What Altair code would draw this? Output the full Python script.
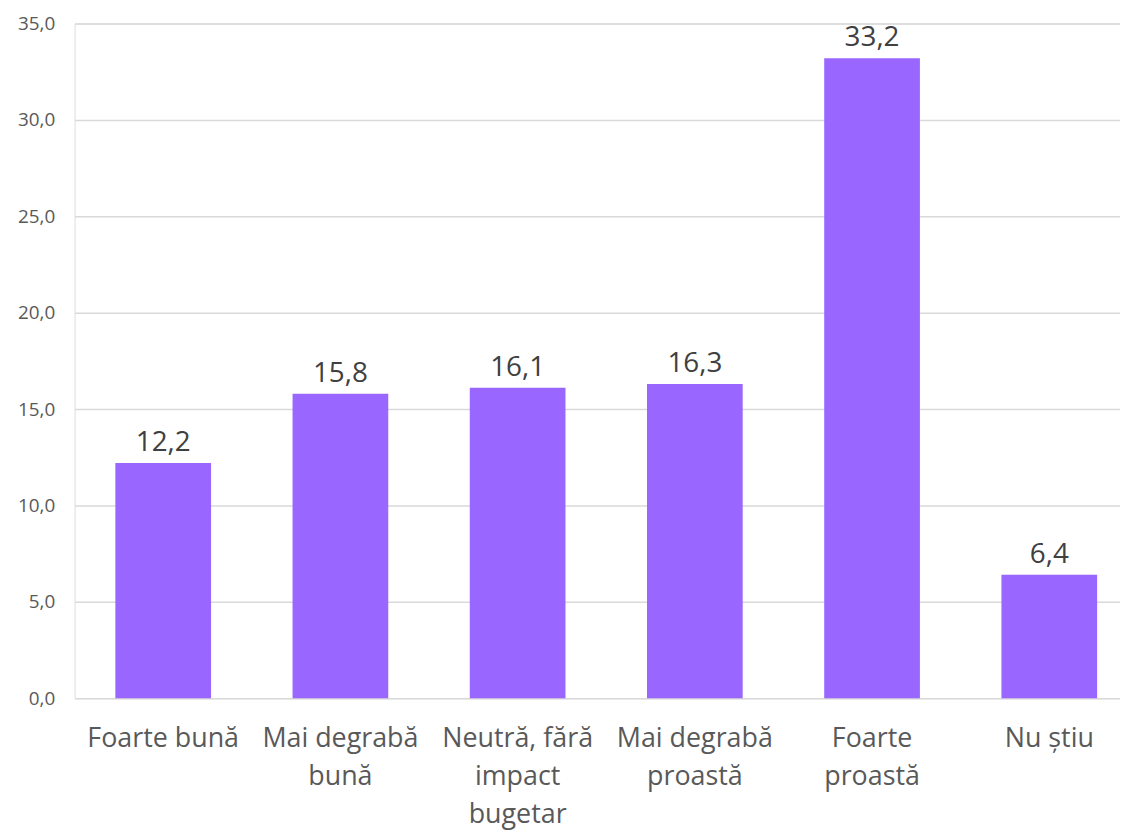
import altair as alt
import pandas as pd

categories = ["Foarte bună", "Mai degrabă\nbună", "Neutră, fără\nimpact\nbugetar",
              "Mai degrabă\nproastă", "Foarte\nproastă", "Nu știu"]
values = [12.2, 15.8, 16.1, 16.3, 33.2, 6.4]
y_ticks = [0, 5, 10, 15, 20, 25, 30, 35]

df = pd.DataFrame({"cat": categories, "val": values})

FONT = "Open Sans"

base = alt.Chart(df).encode(
    x=alt.X("cat:N", sort=categories,
            scale=alt.Scale(paddingInner=0.46, paddingOuter=0.23, range=[0, 1070]),
            axis=alt.Axis(title=None, labelAngle=0, labelFontSize=27, labelFont=FONT,
                          labelColor="#595959", labelLineHeight=38, labelPadding=28,
                          labelExpr="split(datum.label, '\\n')", ticks=False,
                          domain=False, labelBaseline="top", labelOverlap=False)),
    y=alt.Y("val:Q", scale=alt.Scale(domain=[0, 35], nice=False),
            axis=alt.Axis(title=None, values=y_ticks, labelFontSize=19, labelFont=FONT,
                          labelColor="#595959", labelPadding=20, ticks=False, domain=False,
                          gridColor="#d9d9d9", gridWidth=1.5,
                          labelExpr="replace(format(datum.value, '.1f'), '.', ',')")),
)

bars = base.mark_bar(color="#9966FF")
text = base.transform_calculate(
    lbl="replace(format(datum.val, '.1f'), '.', ',')"
).mark_text(baseline="alphabetic", dy=-12, fontSize=28, font=FONT, color="#404040").encode(
    text="lbl:N")

chart = (bars + text).properties(
    width=1052, height=679,
    padding={"left": 67, "top": 13, "right": 0, "bottom": 134},
    autosize=alt.AutoSizeParams(type="none"),
).configure_view(stroke=None).configure(background="white")

chart.save("out.html", embed_options={"renderer": "svg", "actions": False})
